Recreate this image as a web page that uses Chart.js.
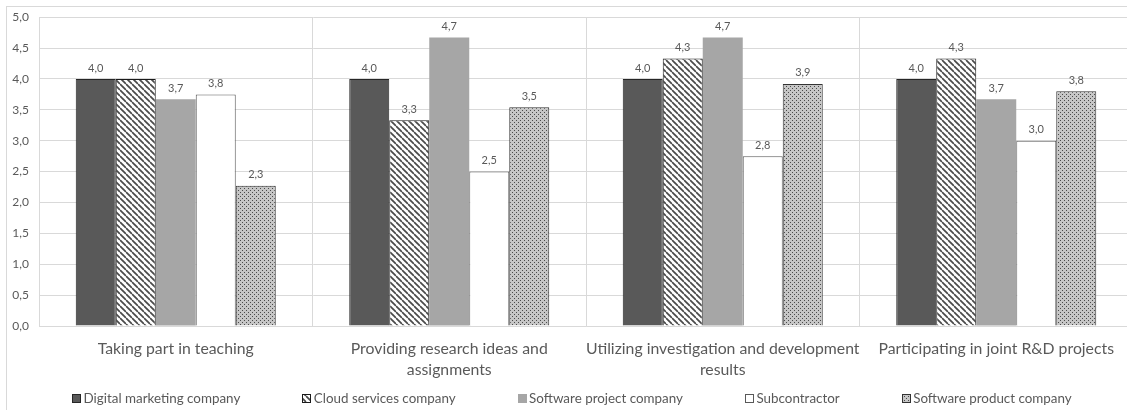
<!DOCTYPE html>
<html>
<head>
<meta charset="utf-8">
<script src="https://cdn.jsdelivr.net/npm/chart.js@4"></script>
<style>
  html, body { margin: 0; padding: 0; background: #fff; overflow: hidden; }
  #wrap { position: relative; width: 1127px; height: 410px; overflow: hidden; }
  #frame { position: absolute; left: 6px; top: 6px; width: 1200px; height: 500px; border-left: 1px solid #d9d9d9; border-top: 1px solid #d9d9d9; pointer-events: none; }
  canvas { position: absolute; left: 0; top: 0; }
</style>
</head>
<body>
<div id="wrap">
  <canvas id="c" width="1135" height="410"></canvas>
  <div id="frame"></div>
</div>
<script>
const categories = [
  ['Taking part in teaching'],
  ['Providing research ideas and', 'assignments'],
  ['Utilizing investigation and development', 'results'],
  ['Participating in joint R&D projects']
];
const seriesNames = ['Digital marketing company', 'Cloud services company', 'Software project company', 'Subcontractor', 'Software product company'];
const digitalMarketing = [4.0, 4.0, 4.0, 4.0];
const cloudServices = [4.0, 3.33, 4.33, 4.33];
const softwareProject = [3.67, 4.67, 4.67, 3.67];
const subcontractor = [3.75, 2.5, 2.75, 3.0];
const softwareProduct = [2.27, 3.54, 3.92, 3.8];
const yTicks = [0, 0.5, 1, 1.5, 2, 2.5, 3, 3.5, 4, 4.5, 5];

const FONT = 'Lato';
const ctx = document.getElementById('c').getContext('2d');

function stripePattern() {
  const s = 6, c = document.createElement('canvas');
  c.width = c.height = s;
  const x = c.getContext('2d');
  x.fillStyle = '#ffffff'; x.fillRect(0, 0, s, s);
  x.strokeStyle = '#4a4a4a'; x.lineWidth = 1.7;
  for (const k of [-1, 0, 1]) { x.beginPath(); x.moveTo(0, k * s); x.lineTo(s, s + k * s); x.stroke(); }
  return ctx.createPattern(c, 'repeat');
}
function dotPattern() {
  const s = 4, c = document.createElement('canvas');
  c.width = c.height = s;
  const x = c.getContext('2d');
  x.fillStyle = '#c6c6c6'; x.fillRect(0, 0, s, s);
  x.fillStyle = '#4a4a4a'; x.fillRect(0, 0, 1, 1); x.fillRect(2, 2, 1, 1);
  return ctx.createPattern(c, 'repeat');
}

const fmt = v => v.toFixed(1).replace('.', ',');

const valueLabels = {
  id: 'valueLabels',
  afterDatasetsDraw(chart) {
    const c = chart.ctx;
    c.save();
    c.font = '11px ' + FONT;
    c.fillStyle = '#595959';
    c.textAlign = 'center';
    c.textBaseline = 'middle';
    chart.data.datasets.forEach((ds, i) => {
      chart.getDatasetMeta(i).data.forEach((bar, j) => {
        c.fillText(fmt(ds.data[j]), bar.x, bar.y - 11);
      });
    });
    c.restore();
  }
};

const customLegend = {
  id: 'customLegend',
  afterDraw(chart) {
    const c = chart.ctx;
    const gap = 62, box = 9, textGap = 2.5, cy = 398.5, centerX = 572;
    c.save();
    c.font = '13.4px ' + FONT;
    const widths = chart.data.datasets.map(ds => box + textGap + c.measureText(ds.label).width);
    const total = widths.reduce((a, b) => a + b, 0) + gap * (widths.length - 1);
    let x = Math.round(centerX - total / 2);
    chart.data.datasets.forEach((ds, i) => {
      const bx = Math.round(x), by = Math.round(cy - box / 2);
      c.fillStyle = ds.backgroundColor;
      c.fillRect(bx, by, box, box);
      c.lineWidth = 1;
      c.strokeStyle = ds.borderWidth ? ds.borderColor : ds.backgroundColor;
      c.strokeRect(bx + 0.5, by + 0.5, box - 1, box - 1);
      c.fillStyle = '#595959';
      c.textAlign = 'left';
      c.textBaseline = 'middle';
      c.fillText(ds.label, x + box + textGap, cy);
      x += widths[i] + gap;
    });
    c.restore();
  }
};

const common = { barPercentage: 1.0, categoryPercentage: 0.7313 };

new Chart(ctx, {
  type: 'bar',
  data: {
    labels: categories,
    datasets: [
      Object.assign({ label: seriesNames[0], data: digitalMarketing, backgroundColor: '#595959', borderColor: '#262626', borderWidth: 1 }, common),
      Object.assign({ label: seriesNames[1], data: cloudServices, backgroundColor: stripePattern(), borderColor: '#1a1a1a', borderWidth: 1 }, common),
      Object.assign({ label: seriesNames[2], data: softwareProject, backgroundColor: '#a6a6a6', borderColor: '#a6a6a6', borderWidth: 0 }, common),
      Object.assign({ label: seriesNames[3], data: subcontractor, backgroundColor: '#ffffff', borderColor: '#595959', borderWidth: 1 }, common),
      Object.assign({ label: seriesNames[4], data: softwareProduct, backgroundColor: dotPattern(), borderColor: '#333333', borderWidth: 1 }, common)
    ]
  },
  options: {
    responsive: false,
    animation: false,
    devicePixelRatio: 1,
    layout: { padding: { left: 6, top: 15, right: 2, bottom: 0 } },
    plugins: { legend: { display: false }, tooltip: { enabled: false } },
    scales: {
      x: {
        grid: { color: '#d9d9d9', drawTicks: false, offset: true },
        border: { color: '#d9d9d9' },
        ticks: { color: '#595959', font: { family: FONT, size: 15.8, lineHeight: 1.33 }, padding: 12, maxRotation: 0, autoSkip: false },
        afterFit(s) { s.height = 84; }
      },
      y: {
        min: 0, max: 5,
        afterBuildTicks(s) { s.ticks = yTicks.map(v => ({ value: v })); },
        grid: { color: '#d9d9d9', drawTicks: false },
        border: { color: '#d9d9d9' },
        ticks: { color: '#595959', font: { family: FONT, size: 12 }, padding: 10, callback: v => fmt(v) },
        afterFit(s) { s.width = 33; }
      }
    }
  },
  plugins: [valueLabels, customLegend]
});
</script>
</body>
</html>
